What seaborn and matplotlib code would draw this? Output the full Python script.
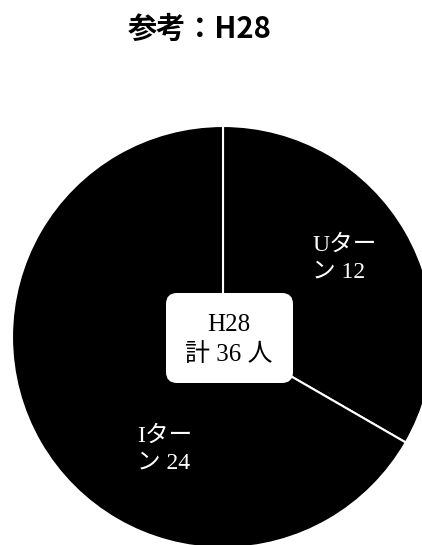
import matplotlib
matplotlib.use("Agg")
import matplotlib.pyplot as plt
from matplotlib.patches import FancyBboxPatch
import seaborn as sns

sns.set_theme(style="white")
plt.rcParams['font.family'] = ['Liberation Serif', 'Noto Sans CJK JP']
plt.rcParams['text.color'] = 'black'

categories = ["Uター\nン", "Iター\nン"]
values = [12, 24]
title = "参考：H28"
total = sum(values)

W, H = 422, 545
fig = plt.figure(figsize=(W / 100, H / 100), dpi=100)
ax = fig.add_axes([0, 0, 1, 1])

cx, cy, r = 223, H - 337, 211
ax.pie(values, startangle=90, counterclock=False, colors=["#000000", "#000000"],
       center=(cx, cy), radius=r, frame=True,
       wedgeprops=dict(edgecolor="white", linewidth=1.5))
ax.set_xlim(0, W)
ax.set_ylim(0, H)
ax.set_aspect('equal')
ax.axis('off')

# slice labels
label_pos = [(312, H - 259), (137, H - 450)]
for (x, y), cat, v in zip(label_pos, categories, values):
    ax.text(x, y, f"{cat} {v}", color="white", fontsize=17, ha="left",
            va="center", linespacing=1.35)

# center box
box = FancyBboxPatch((166, H - 383), 127, 90,
                     boxstyle="round,pad=0,rounding_size=11",
                     fc="white", ec="none", zorder=5)
ax.add_patch(box)
ax.text(229, H - 340, f"H28\n計 {total} 人", color="black", fontsize=18,
        ha="center", va="center", linespacing=1.4, zorder=6)

fig.text(200 / W, 1 - 29 / H, title, ha="center", va="center", fontsize=21,
         fontweight="bold", color="black", family=['Noto Sans CJK JP', 'DejaVu Sans'])

fig.savefig("out.png", dpi=100, facecolor="white")
